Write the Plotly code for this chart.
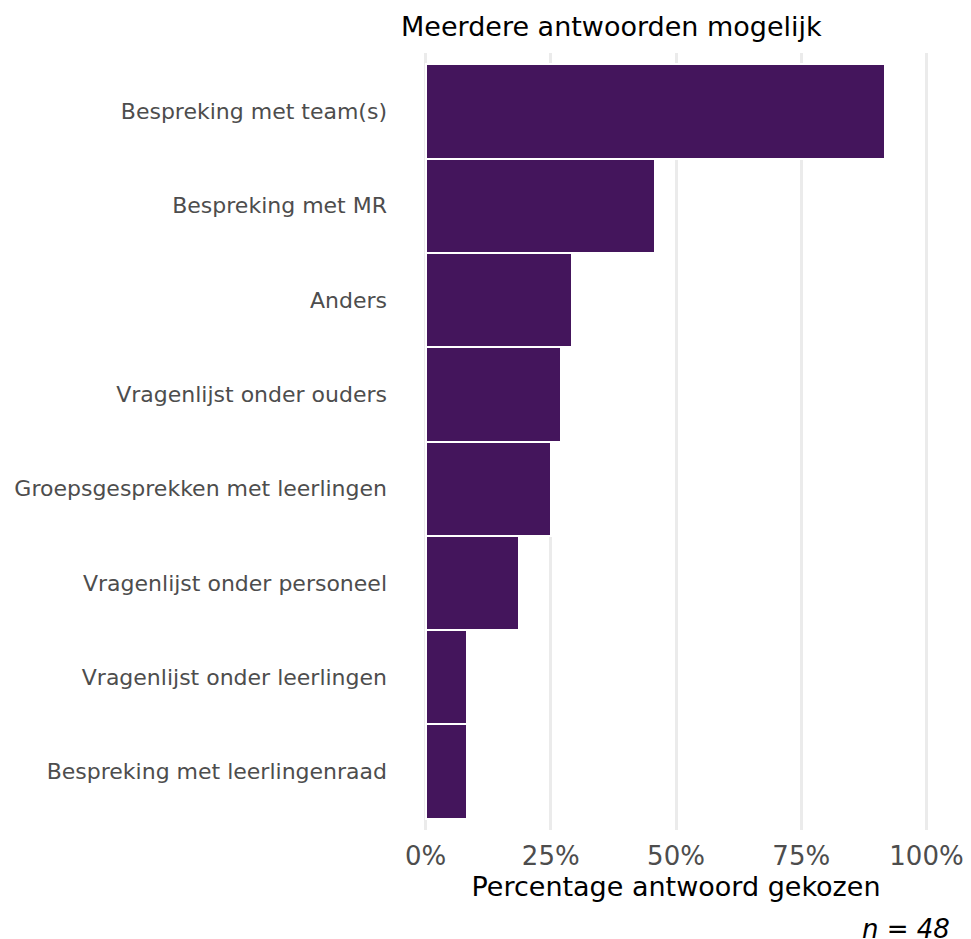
import plotly.graph_objects as go

# Survey results: share of schools choosing each method (multiple answers allowed)
categories = [
    "Bespreking met team(s)",
    "Bespreking met MR",
    "Anders",
    "Vragenlijst onder ouders",
    "Groepsgesprekken met leerlingen",
    "Vragenlijst onder personeel",
    "Vragenlijst onder leerlingen",
    "Bespreking met leerlingenraad",
]
counts = [44, 22, 14, 13, 12, 9, 4, 4]
n_total = 48
shares = [c / n_total for c in counts]

tick_values = [0, 0.25, 0.5, 0.75, 1.0]
tick_labels = ["0%", "25%", "50%", "75%", "100%"]

W, H = 971, 939
L, R, T, B = 420, 39, 53, 109
FONT = "DejaVu Sans"

fig = go.Figure(
    go.Bar(
        x=shares,
        y=categories,
        orientation="h",
        width=1.0,
        marker=dict(color="#44155c", line=dict(color="white", width=2)),
        hoverinfo="x+y",
    )
)

fig.update_layout(
    width=W,
    height=H,
    margin=dict(l=L, r=R, t=T, b=B, pad=0, autoexpand=False),
    plot_bgcolor="white",
    paper_bgcolor="white",
    showlegend=False,
    bargap=0,
    font=dict(family=FONT),
    title=dict(
        text="Meerdere antwoorden mogelijk",
        x=401 / W,
        xanchor="left",
        xref="container",
        y=1 - 27 / H,
        yanchor="middle",
        yref="container",
        font=dict(size=27, color="black", family=FONT),
    ),
    xaxis=dict(
        range=[-0.011, 1.011],
        tickvals=tick_values,
        ticktext=tick_labels,
        showgrid=True,
        gridcolor="#ebebeb",
        gridwidth=3,
        zeroline=False,
        showline=False,
        ticks="",
        automargin=False,
        ticklabelstandoff=8,
        tickfont=dict(size=26, color="#4d4d4d", family=FONT),
        title=dict(
            text="Percentage antwoord gekozen",
            font=dict(size=27, color="black", family=FONT),
            standoff=4,
        ),
        fixedrange=True,
    ),
    yaxis=dict(
        categoryorder="array",
        categoryarray=categories[::-1],
        range=[-0.62, 7.62],
        showgrid=False,
        zeroline=False,
        showline=False,
        ticks="",
        automargin=False,
        ticklabelstandoff=32,
        tickfont=dict(size=22, color="#4d4d4d", family=FONT),
        fixedrange=True,
    ),
    annotations=[
        dict(
            text="<i>n = " + str(n_total) + "</i>",
            xref="paper",
            yref="paper",
            x=(952 - L) / (W - L - R),
            xanchor="right",
            y=-(929 - (H - B)) / (H - T - B),
            yanchor="middle",
            showarrow=False,
            font=dict(size=26, color="black", family=FONT),
        )
    ],
)

fig.write_html("out.html")
